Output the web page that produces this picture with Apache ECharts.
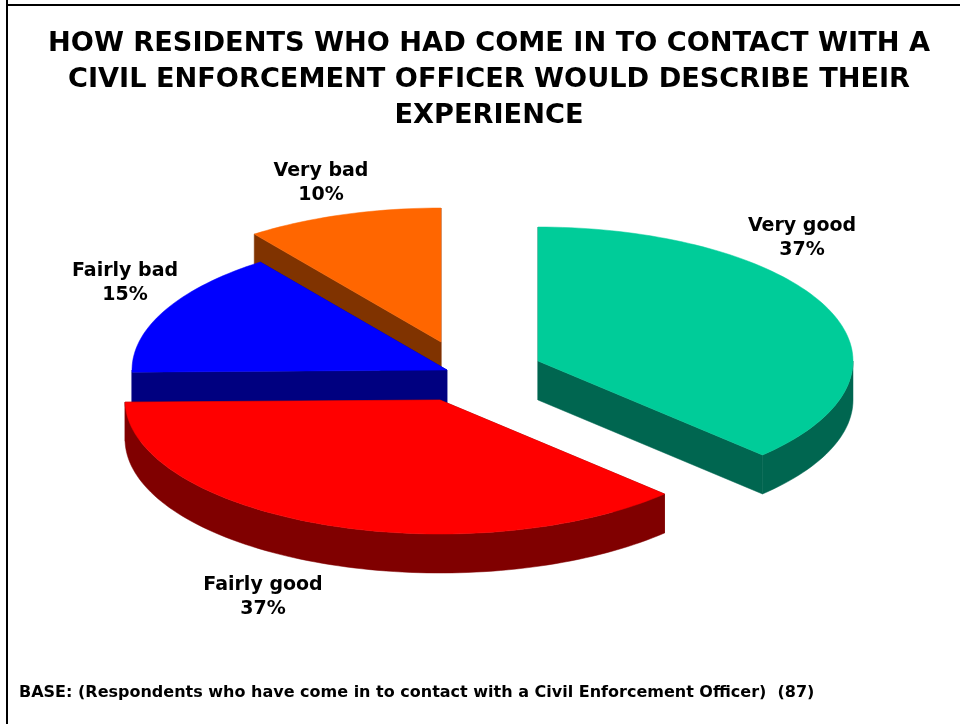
<!DOCTYPE html>
<html>
<head>
<meta charset="utf-8">
<style>html,body{margin:0;padding:0;background:#fff}#c{width:960px;height:724px}</style>
<script src="https://cdn.jsdelivr.net/npm/echarts@6/dist/echarts.min.js"></script>
</head>
<body>
<div id="c"></div>
<script>
const categories = ['Very good', 'Fairly good', 'Fairly bad', 'Very bad'];
const percents = [37, 37, 15, 10];
const topColors = ['#00CC99', '#FF0000', '#0000FF', '#FF6600'];
const sideColors = ['#006650', '#800000', '#000080', '#803300'];
const titleText = 'HOW RESIDENTS WHO HAD COME IN TO CONTACT WITH A\nCIVIL ENFORCEMENT OFFICER WOULD DESCRIBE THEIR\nEXPERIENCE';
const baseText = 'BASE: (Respondents who have come in to contact with a Civil Enforcement Officer)  (87)';

// Layout of the projected pie
const rx = 315, ry = 134, depth = 39;
const apexes = [[538, 361], [440, 400], [447, 370], [441, 342]];
const stacking = [4, 3, 2, 1];
const labelAnchors = [[802, 238], [263, 597], [125, 283], [321, 183]];
const total = percents.reduce((a, b) => a + b, 0);

function rimPoint(c, deg, dy) {
  const t = deg * Math.PI / 180;
  return [c[0] + rx * Math.sin(t), c[1] - ry * Math.cos(t) + (dy || 0)];
}
function arc(c, from, to, dy) {
  const pts = [];
  const n = Math.max(2, Math.ceil((to - from) / 1.5));
  for (let k = 0; k <= n; k++) pts.push(rimPoint(c, from + (to - from) * k / n, dy));
  return pts;
}
function renderItem(params, api) {
  const i = params.dataIndex;
  let start = 0;
  for (let k = 0; k < i; k++) start += percents[k] / total * 360;
  const end = start + api.value(0) / total * 360;
  const c = apexes[i];
  const z = stacking[i] * 10;
  const children = [];
  const poly = (points, fill, zz) => children.push({
    type: 'polygon', shape: { points }, z2: zz,
    style: { fill, stroke: fill, lineWidth: 0.5 }
  });
  [start, end].forEach(a => {
    const p = rimPoint(c, a);
    poly([c, p, rimPoint(c, a, depth), [c[0], c[1] + depth]], sideColors[i], z);
  });
  const wFrom = Math.max(start, 90), wTo = Math.min(end, 270);
  if (wTo > wFrom) {
    poly(arc(c, wFrom, wTo, 0).concat(arc(c, wFrom, wTo, depth).reverse()), sideColors[i], z + 1);
  }
  poly([c].concat(arc(c, start, end, 0)), topColors[i], z + 2);
  children.push({
    type: 'text', z2: 100,
    style: {
      x: labelAnchors[i][0], y: labelAnchors[i][1],
      text: categories[i] + '\n' + api.value(0) + '%',
      fill: '#000', align: 'center', verticalAlign: 'middle',
      font: 'bold 19px "DejaVu Sans"', lineHeight: 24
    }
  });
  return { type: 'group', children };
}

const chart = echarts.init(document.getElementById('c'), null, { renderer: 'canvas' });
chart.setOption({
  animation: false,
  backgroundColor: '#fff',
  title: [
    { text: titleText, left: 484, top: 21, textAlign: 'center',
      textStyle: { fontFamily: 'DejaVu Sans', fontWeight: 'bold', fontSize: 27.2, lineHeight: 36, color: '#000' } },
    { text: baseText, left: 14, top: 680,
      textStyle: { fontFamily: 'DejaVu Sans', fontWeight: 'bold', fontSize: 16, color: '#000' } }
  ],
  graphic: [
    { type: 'line', shape: { x1: 7, y1: 0, x2: 7, y2: 724 }, style: { stroke: '#000', lineWidth: 2 } },
    { type: 'line', shape: { x1: 6, y1: 5, x2: 960, y2: 5 }, style: { stroke: '#000', lineWidth: 2 } }
  ],
  series: [{ type: 'custom', coordinateSystem: 'none', renderItem, data: percents }]
});
</script>
</body>
</html>
